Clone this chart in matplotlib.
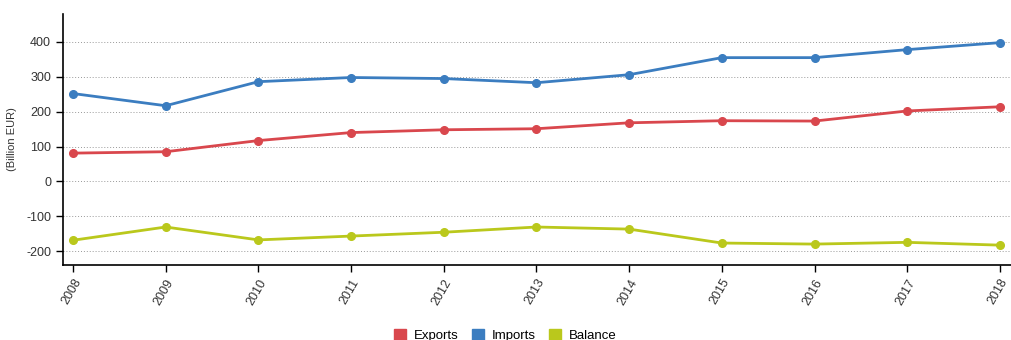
import matplotlib.pyplot as plt

plt.rcParams['font.family'] = ['Liberation Sans', 'DejaVu Sans']
plt.rcParams['axes.unicode_minus'] = False

years = [2008, 2009, 2010, 2011, 2012, 2013, 2014, 2015, 2016, 2017, 2018]
exports = [81, 85, 117, 140, 148, 151, 168, 174, 173, 202, 214]
imports = [252, 217, 286, 298, 295, 283, 306, 355, 355, 378, 398]
balance = [-169, -131, -168, -157, -146, -131, -137, -177, -180, -175, -183]

names = ['Exports', 'Imports', 'Balance']
colors = ['#d9474d', '#3b7dc0', '#bac81c']

fig = plt.figure(figsize=(10.11, 3.4), dpi=100)
ax = fig.add_axes([0.0623, 0.2206, 0.9377, 0.738])

for vals, name, c in zip([exports, imports, balance], names, colors):
    ax.plot(years, vals, color=c, lw=2.0, marker='o', ms=5.5, label=name,
            solid_joinstyle='round')

ax.set_xlim(2007.892, 2018.12)
ax.set_ylim(-240, 480)
ax.set_yticks([-200, -100, 0, 100, 200, 300, 400])
ax.set_xticks(years)
ax.set_xticklabels([str(y) for y in years], rotation=60, ha='right',
                   rotation_mode='anchor')
ax.grid(axis='y', color='#999999', ls=(0, (1, 2)), lw=0.7)
ax.set_axisbelow(True)

for s in ['top', 'right']:
    ax.spines[s].set_visible(False)
for s in ['left', 'bottom']:
    ax.spines[s].set_color('#000000')
    ax.spines[s].set_linewidth(1.2)

ax.tick_params(axis='both', labelsize=9, colors='#333333', length=5, width=1)
ax.tick_params(axis='both', color='#000000')
ax.set_ylabel('(Billion EUR)', fontsize=8, color='#333333')
ax.yaxis.set_label_coords(-0.049, 0.5)

# legend row under the year labels
handles = [plt.Rectangle((0, 0), 1, 1, color=c) for c in colors]
fig.legend(handles, names, loc='lower center', bbox_to_anchor=(0.5, -0.04),
           ncol=3, frameon=False, fontsize=9.5, handlelength=0.9,
           handleheight=0.9, handletextpad=0.6, columnspacing=1.0)

fig.savefig('out.png', dpi=100)
